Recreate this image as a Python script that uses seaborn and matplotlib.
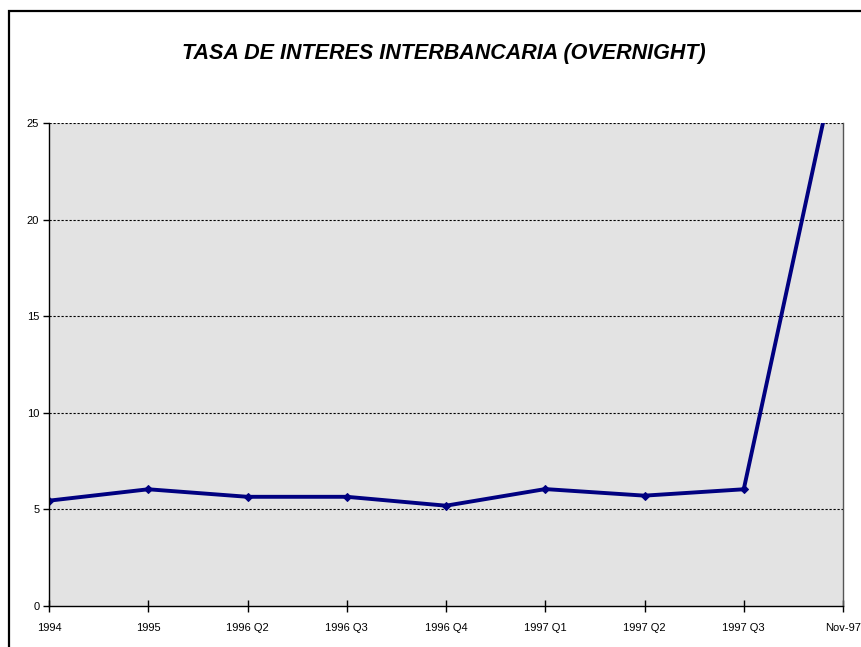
import pandas as pd
import matplotlib
matplotlib.use("Agg")
import matplotlib.pyplot as plt
import seaborn as sns
from matplotlib.patches import Rectangle

# Data (last value goes beyond the 25 top and is clipped)
periodos = ["1994", "1995", "1996 Q2", "1996 Q3", "1996 Q4",
            "1997 Q1", "1997 Q2", "1997 Q3", "Nov-97"]
tasa = [5.44, 6.03, 5.64, 5.64, 5.18, 6.04, 5.70, 6.03, 29.8]
y_ticks = [0, 5, 10, 15, 20, 25]

df = pd.DataFrame({"periodo": periodos, "tasa": tasa})

sns.set_theme(style="white")
plt.rcParams["font.family"] = ["Liberation Sans", "DejaVu Sans"]

fig = plt.figure(figsize=(8.61, 6.47), dpi=100)
ax = fig.add_axes([49 / 861, 1 - 605.7 / 647, (843 - 49) / 861, (605.7 - 123) / 647])
ax.set_facecolor("#E3E3E3")

sns.lineplot(data=df, x="periodo", y="tasa", sort=False, ax=ax,
             color="#000080", linewidth=2.8, marker="D", markersize=4.5,
             markeredgecolor="#000080", markerfacecolor="#000080")

ax.set_xlim(0, len(periodos) - 1)
ax.set_ylim(0, 25)
ax.set_yticks(y_ticks)
ax.set_xlabel("")
ax.set_ylabel("")

# dashed horizontal grid
for v in y_ticks[1:]:
    ax.axhline(v, color="black", linewidth=0.8, linestyle=(0, (2.0, 1.6)), zorder=1)

for s in ["left", "bottom"]:
    ax.spines[s].set_color("black")
    ax.spines[s].set_linewidth(1.0)
ax.spines["right"].set_color("#555555")
ax.spines["right"].set_linewidth(1.0)
ax.spines["top"].set_visible(False)

ax.tick_params(axis="x", direction="inout", length=9, width=1, color="black",
               labelsize=8, pad=8, bottom=True)
ax.tick_params(axis="y", direction="out", length=4, width=1, color="black",
               labelsize=8, pad=3, left=True)
for lab in ax.get_xticklabels() + ax.get_yticklabels():
    lab.set_color("black")

fig.text(443.5 / 861, 1 - 54 / 647, "TASA DE INTERES INTERBANCARIA (OVERNIGHT)",
         ha="center", va="center", fontsize=15.5, fontweight="bold",
         fontstyle="italic", color="black")

# outer frame of the chart object
fig.patches.append(Rectangle((9 / 861, -0.05), 1.0, 1 - 11 / 647 + 0.05,
                             transform=fig.transFigure, fill=False,
                             edgecolor="black", linewidth=1.6))

fig.savefig("out.png", dpi=100)
